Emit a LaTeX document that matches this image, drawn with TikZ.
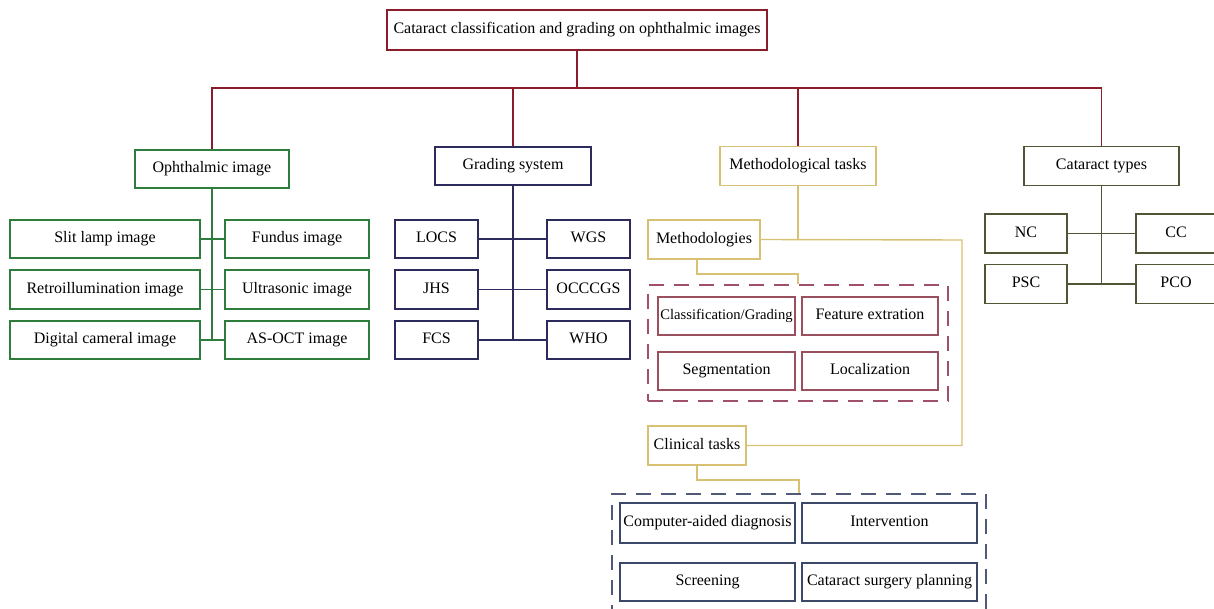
\documentclass[tikz,border=0pt]{standalone}
\usepackage{fontspec}
\setmainfont{Liberation Serif}
\definecolor{cmaroon}{HTML}{8B1C2C}
\definecolor{cgreen}{HTML}{2E7D3C}
\definecolor{cnavy}{HTML}{2D2B5C}
\definecolor{ckhaki}{HTML}{D8C172}
\definecolor{cpink}{HTML}{A0506A}
\definecolor{cinner}{HTML}{9B5060}
\definecolor{cslate}{HTML}{505A78}
\definecolor{cslatein}{HTML}{3C4868}
\definecolor{colive}{HTML}{4F5535}
\tikzset{
  bx/.style={draw, line width=1.4pt, inner sep=0pt, minimum height=38pt, font=\fontsize{16}{19}\selectfont, text height=11pt, text depth=3.5pt, text=black, fill=white},
  ln/.style={line width=1.4pt},
  dbox/.style={draw, line width=1.4pt, dash pattern=on 15pt off 10pt, inner sep=0pt},
}
\begin{document}
\begin{tikzpicture}[x=1pt,y=-1pt]
\path[use as bounding box, clip] (0,0) rectangle (1214,609);
\fill[white] (0,0) rectangle (1214,609);
\coordinate (bar) at (0,88);
% top
\node[bx, draw=cmaroon, minimum width=380pt, minimum height=40pt] (top) at (577,30) {Cataract classification and grading on ophthalmic images};
\node[bx, draw=cgreen, minimum width=154pt] (oph) at (212,169) {Ophthalmic image};
\node[bx, draw=cnavy, minimum width=156pt] (grad) at (513,166) {Grading system};
\node[bx, draw=ckhaki, minimum width=156pt, minimum height=39pt] (mt) at (798,166) {Methodological tasks};
\node[bx, draw=colive, minimum width=155pt, minimum height=39pt] (ct) at (1101.5,166) {Cataract types};
\draw[ln, cmaroon] (top.south) -- (top.south |- bar);
\draw[ln, cmaroon] (oph.north) |- (ct.north |- bar) -- (ct.north);
\draw[ln, cmaroon] (grad.north) -- (grad.north |- bar);
\draw[ln, cmaroon] (mt.north) -- (mt.north |- bar);
% ophthalmic image
\begin{scope}[every node/.append style={bx, draw=cgreen}]
\node[minimum width=190pt] (o1) at (105,239) {Slit lamp image};
\node[minimum width=190pt, minimum height=39pt] (o2) at (105,289.5) {Retroillumination image};
\node[minimum width=190pt] (o3) at (105,340) {Digital cameral image};
\node[minimum width=144pt] (o4) at (297,239) {Fundus image};
\node[minimum width=144pt, minimum height=39pt] (o5) at (297,289.5) {Ultrasonic image};
\node[minimum width=144pt] (o6) at (297,340) {AS-OCT image};
\end{scope}
\draw[ln, cgreen] (oph.south) -- (oph.south |- o3.east);
\draw[ln, cgreen] (o1.east) -- (o4.west);
\draw[ln, cgreen] (o2.east) -- (o5.west);
\draw[ln, cgreen] (o3.east) -- (o6.west);
% grading
\begin{scope}[every node/.append style={bx, draw=cnavy, minimum width=83pt}]
\node (g1) at (436.5,239) {LOCS};
\node[minimum height=39pt] (g2) at (436.5,289.5) {JHS};
\node (g3) at (436.5,340) {FCS};
\node (g4) at (588.5,239) {WGS};
\node[minimum height=39pt] (g5) at (588.5,289.5) {OCCCGS};
\node (g6) at (588.5,340) {WHO};
\end{scope}
\draw[ln, cnavy] (grad.south) -- (grad.south |- g3.east);
\draw[ln, cnavy] (g1.east) -- (g4.west);
\draw[ln, cnavy] (g2.east) -- (g5.west);
\draw[ln, cnavy] (g3.east) -- (g6.west);
% cataract types
\begin{scope}[every node/.append style={bx, draw=colive, minimum height=39pt}]
\node[minimum width=82pt] (c1) at (1026,233.5) {NC};
\node[minimum width=82pt] (c2) at (1026,284) {PSC};
\node[minimum width=80pt] (c3) at (1176,233.5) {CC};
\node[minimum width=80pt] (c4) at (1176,284) {PCO};
\end{scope}
\draw[ln, colive] (ct.south) -- (ct.south |- c2.east);
\draw[ln, colive] (c1.east) -- (c3.west);
\draw[ln, colive] (c2.east) -- (c4.west);
% methodological tasks
\node[bx, draw=ckhaki, minimum width=112pt, minimum height=39pt] (meths) at (704,239.5) {Methodologies};
\node[bx, draw=ckhaki, minimum width=98pt, minimum height=39pt] (clin) at (697,445.5) {Clinical tasks};
\coordinate (turn) at (962,240);
\draw[ln, ckhaki] (mt.south) -- (mt.south |- meths.east);
\draw[ln, ckhaki] (meths.east) -- (turn) |- (clin.east);
\node[dbox, draw=cpink, minimum width=300pt, minimum height=116pt] (db1) at (798,343) {};
\node[dbox, draw=cslate, minimum width=374pt, minimum height=116pt] (db2) at (799,552) {};
\draw[ln, ckhaki] ([xshift=-7pt]meths.south) |- (db1.north |- 0,274) -- (db1.north);
\draw[ln, ckhaki] (clin.south) |- (db2.north |- 0,480) -- (db2.north);
\begin{scope}[every node/.append style={bx, draw=cinner}]
\node[minimum width=137pt, font=\fontsize{14.6}{18}\selectfont] (m1) at (726.5,316) {Classification/Grading};
\node[minimum width=136pt] (m2) at (870,316) {Feature extration};
\node[minimum width=137pt] (m3) at (726.5,371) {Segmentation};
\node[minimum width=136pt] (m4) at (870,371) {Localization};
\end{scope}
\begin{scope}[every node/.append style={bx, draw=cslatein}]
\node[minimum width=175pt, minimum height=40pt] (k1) at (707.5,523) {Computer-aided diagnosis};
\node[minimum width=175pt, minimum height=40pt] (k2) at (889.5,523) {Intervention};
\node[minimum width=175pt] (k3) at (707.5,582) {Screening};
\node[minimum width=175pt] (k4) at (889.5,582) {Cataract surgery planning};
\end{scope}
\end{tikzpicture}
\end{document}
